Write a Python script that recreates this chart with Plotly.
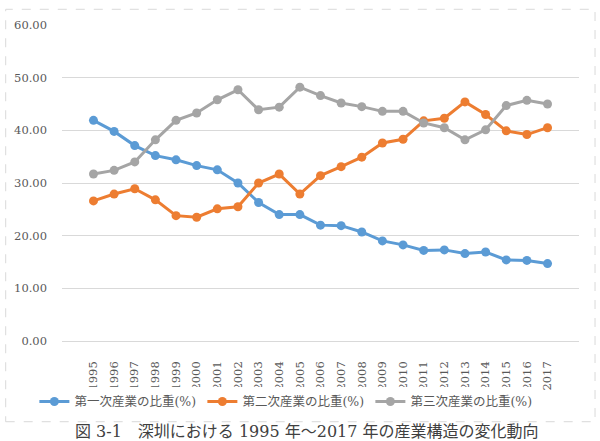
import plotly.graph_objects as go

years = [str(y) for y in range(1995, 2018)]
primary = [41.9, 39.8, 37.1, 35.2, 34.4, 33.3, 32.5, 30.0, 26.3, 24.0, 24.0, 22.0, 21.9, 20.7,
           19.0, 18.25, 17.2, 17.3, 16.6, 16.9, 15.4, 15.3, 14.7]
secondary = [26.6, 27.9, 28.9, 26.8, 23.8, 23.5, 25.1, 25.5, 30.0, 31.7, 27.9, 31.4, 33.1, 34.9,
             37.6, 38.3, 41.8, 42.3, 45.4, 43.0, 39.9, 39.2, 40.5]
tertiary = [31.7, 32.4, 34.0, 38.2, 41.9, 43.3, 45.8, 47.7, 43.9, 44.4, 48.2, 46.6, 45.2, 44.5,
            43.6, 43.6, 41.4, 40.5, 38.2, 40.1, 44.7, 45.7, 45.0]
names = ["第一次産業の比重(%)", "第二次産業の比重(%)", "第三次産業の比重(%)"]
colors = ["#5B9BD5", "#ED7D31", "#A5A5A5"]
yticks = [0, 10, 20, 30, 40, 50, 60]
caption = "図 3-1　深圳における 1995 年～2017 年の産業構造の変化動向"

font_fam = "DejaVu Serif, Noto Sans CJK JP, serif"

fig = go.Figure()
for name, vals, c in zip(names, [primary, secondary, tertiary], colors):
    fig.add_trace(go.Scatter(
        x=years, y=vals, name=name, mode="lines+markers",
        line=dict(color=c, width=3),
        marker=dict(color=c, size=9),
    ))

fig.update_layout(
    width=600, height=441,
    margin=dict(l=62, r=21, t=25, b=100),
    paper_bgcolor="white", plot_bgcolor="white",
    font=dict(family=font_fam, color="#595959", size=11.5),
    showlegend=True,
    legend=dict(orientation="h", x=0.434, xanchor="center", y=-0.145, yanchor="top",
                font=dict(size=12.5, color="#595959"), tracegroupgap=0,
                entrywidth=123, entrywidthmode="pixels"),
    xaxis=dict(type="category", tickangle=-90, showgrid=False, ticks="",
               showline=False, tickfont=dict(size=11.5), ticklabelstandoff=17),
    yaxis=dict(range=[0, 60], tickvals=yticks, ticktext=[f"{v:.2f}" for v in yticks],
               showgrid=True, gridcolor="#D9D9D9", gridwidth=1, zeroline=True,
               zerolinecolor="#D9D9D9", zerolinewidth=1, showline=False, ticks="",
               tickfont=dict(size=11.5), ticklabelstandoff=14),
)

fig.add_shape(type="rect", xref="paper", yref="paper",
              x0=-0.1089, x1=1.031, y0=-0.2554, y1=1.0497,
              line=dict(color="#D9D9D9", width=1, dash="dash"), fillcolor="rgba(0,0,0,0)",
              layer="below")

fig.add_annotation(text=caption, xref="paper", yref="paper", x=0.473, y=-0.287,
                   xanchor="center", yanchor="middle", showarrow=False,
                   font=dict(size=16, color="#404040", family=font_fam))

fig.write_html("out.html")
